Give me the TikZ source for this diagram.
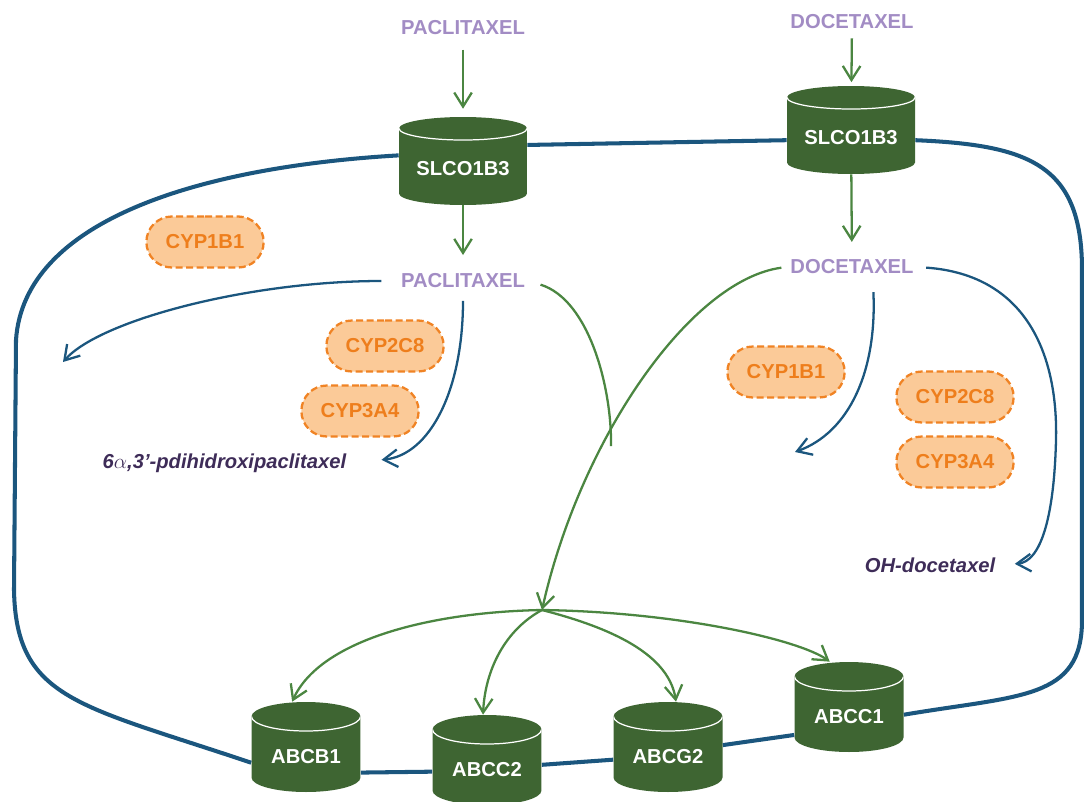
\documentclass[tikz,border=0pt]{standalone}
\usepackage{fontspec}
\setmainfont{Liberation Sans}
\usepackage{tikz}
\usetikzlibrary{shapes.misc}
\usetikzlibrary{arrows.meta}
\definecolor{drugviolet}{HTML}{A28CC4}
\definecolor{metviolet}{HTML}{3E2C58}
\definecolor{pumpgreen}{HTML}{3E6532}
\definecolor{feedgreen}{HTML}{4B8641}
\definecolor{membraneblue}{HTML}{1B567E}
\definecolor{cypfill}{HTML}{FBCA98}
\definecolor{cypline}{HTML}{F08324}
\definecolor{cyptext}{HTML}{EE7E1C}
\newcommand{\tagfont}{\bfseries\fontsize{11.5pt}{13.5pt}\selectfont}
\newcommand{\metfont}{\bfseries\itshape\fontsize{11.5pt}{13.5pt}\selectfont}
% drum body drawn inside a node: #1 = x radius, #2 = y radius of the caps
\newcommand{\drumpic}[2]{%
  \fill[pumpgreen] ([yshift=-#2]path picture bounding box.north west)
    arc[start angle=180, end angle=0, x radius=#1, y radius=#2]
    -- ([yshift=#2]path picture bounding box.south east)
    arc[start angle=0, end angle=-180, x radius=#1, y radius=#2] -- cycle;
  \draw[white, line width=0.7pt] ([yshift=-#2]path picture bounding box.north west)
    arc[start angle=180, end angle=360, x radius=#1, y radius=#2];}

\begin{document}
\begin{tikzpicture}[x=0.02cm, y=-0.02cm,
    drug/.style={text=drugviolet, font=\tagfont, inner sep=2pt},
    metab/.style={text=metviolet, font=\metfont, inner sep=2pt},
    enzyme/.style={rounded rectangle, draw=cypline, fill=cypfill, text=cyptext, font=\tagfont,
      line width=1.3pt, dash pattern=on 4pt off 2pt, minimum width=2.58cm, minimum height=1.02cm},
    pump/.style={rectangle, inner sep=0pt, text=white, font=\tagfont, text depth=0pt,
      text height=18.3pt, minimum width=2.18cm, minimum height=1.8cm,
      path picture={\drumpic{1.09cm}{0.29cm}}},
    bigpump/.style={pump, text height=16.1pt, minimum width=2.56cm, minimum height=1.76cm,
      path picture={\drumpic{1.28cm}{0.23cm}}},
    membrane/.style={draw=membraneblue, line width=2.3pt},
    flow/.style={draw=membraneblue, line width=1.3pt, -{Straight Barb[length=8pt,width=10pt]}},
    feed/.style={draw=feedgreen, line width=1.3pt, -{Straight Barb[length=8pt,width=10pt]}},
    feedline/.style={draw=feedgreen, line width=1.3pt}]
  \useasboundingbox (0,0) rectangle (1084,801);

  % drugs and uptake carriers
  \node[drug] (pacTop) at (463,28) {PACLITAXEL};
  \node[bigpump] (slcoL) at (463,161) {SLCO1B3};
  \node[drug] (pacMid) at (463,281) {PACLITAXEL};
  \node[drug] (docTop) at (852,22) {DOCETAXEL};
  \node[bigpump] (slcoR) at (851,130) {SLCO1B3};
  \node[drug] (docMid) at (852,267) {DOCETAXEL};

  % enzymes
  \node[enzyme] (cypL1) at (205,242) {CYP1B1};
  \node[enzyme] (cypL2) at (385,346) {CYP2C8};
  \node[enzyme] (cypL3) at (360,411) {CYP3A4};
  \node[enzyme] (cypR1) at (786,372) {CYP1B1};
  \node[enzyme] (cypR2) at (955,397) {CYP2C8};
  \node[enzyme] (cypR3) at (955,462) {CYP3A4};

  % metabolites
  \node[metab, anchor=east] (hydroxy) at (350,463) {6$\alpha$,3'-pdihidroxipaclitaxel};
  \node[metab, anchor=east] (ohdoc) at (999,565) {OH-docetaxel};

  % efflux pumps
  \node[pump] (abcb1) at (306,747) {ABCB1};
  \node[pump] (abcc2) at (487,760) {ABCC2};
  \node[pump] (abcg2) at (668,747) {ABCG2};
  \node[pump] (abcc1) at (849,707) {ABCC1};

  \coordinate (hub) at (542,610);
  \coordinate (pacSink) at (63,362);
  \coordinate (docSink) at (795,452);
  \coordinate (merge) at (611,446);

  % membrane
  \draw[membrane] (slcoL.175) .. controls (200,167) and (24,220) .. (16,340) -- (14,590)
    .. controls (16,700) and (80,705) .. (abcb1.196);
  \draw[membrane] (slcoL.14) -- (slcoR.189);
  \draw[membrane] (slcoR.351) .. controls (1030,145) and (1082,165) .. (1082,270) -- (1082,620)
    .. controls (1082,700) and (1020,695) .. (abcc1.352);
  \draw[membrane] (abcb1.335) -- (abcc2.192);
  \draw[membrane] (abcc2.355) -- (abcg2.193);
  \draw[membrane] (abcg2.2) -- (abcc1.207);

  % uptake
  \draw[feed, shorten <=6pt, shorten >=4.5pt] (pacTop) -- (slcoL);
  \draw[feed, shorten >=8.5pt] (slcoL) -- (pacMid);
  \draw[feed, shorten <=3pt, shorten >=2pt] (docTop) -- (slcoR);
  \draw[feed, shorten >=8pt] (slcoR) -- (docMid);

  % metabolism
  \draw[flow, shorten <=9pt] (pacMid.west) .. controls (250,281) and (100,320) .. (pacSink);
  \draw[flow, shorten <=5pt, shorten >=18pt] (pacMid.south) .. controls (463,390) and (430,455) .. (hydroxy.east);
  \draw[flow, shorten <=8pt] (docMid.-28) .. controls (877,370) and (850,432) .. (docSink);
  \draw[flow, shorten <=5pt, shorten >=9pt] (docMid.east) .. controls (1030,275) and (1058,360) .. (1056,440)
    .. controls (1054,520) and (1040,562) .. (ohdoc.east);

  % efflux
  \draw[feedline, shorten <=7pt] (pacMid.east) .. controls (590,300) and (612,390) .. (merge);
  \draw[feed, shorten <=3pt] (docMid.west) .. controls (690,280) and (580,440) .. (hub);
  \draw[feed] (hub) .. controls (430,612) and (320,640) .. (abcb1.107);
  \draw[feed] (hub) .. controls (505,630) and (485,670) .. (abcc2.95);
  \draw[feed] (hub) .. controls (600,625) and (668,650) .. (abcg2.80);
  \draw[feed] (hub) .. controls (680,612) and (800,640) .. (abcc1.113);
\end{tikzpicture}
\end{document}
